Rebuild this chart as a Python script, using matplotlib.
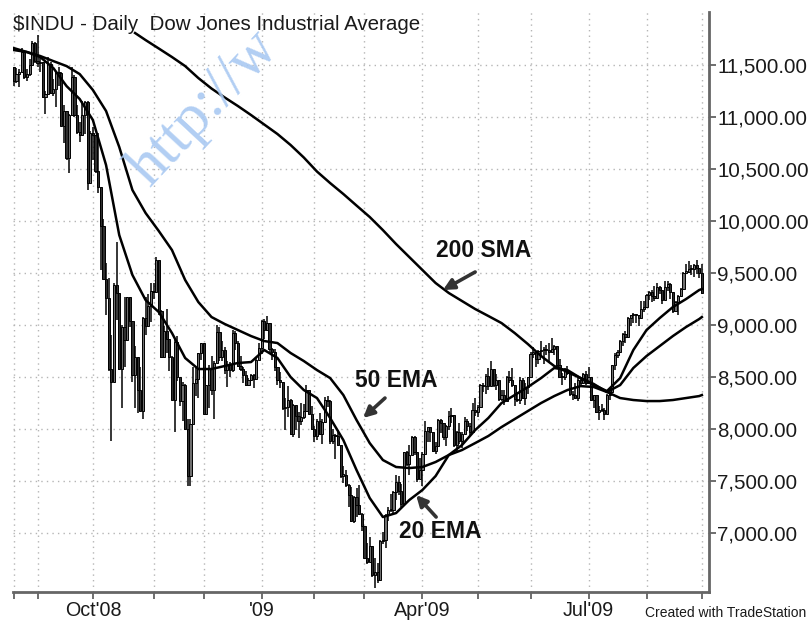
import matplotlib
matplotlib.use("Agg")
import matplotlib.pyplot as plt
import numpy as np
import pandas as pd
from matplotlib.ticker import FuncFormatter, FixedLocator

# ----------------------------
# Data ($INDU daily, Aug 19 2008 - Sep 1 2009)
# ----------------------------
HOLIDAYS = ["2008-09-01", "2008-11-27", "2008-12-25", "2009-01-01", "2009-01-19",
            "2009-02-16", "2009-04-10", "2009-05-25", "2009-07-03"]
FIRST_DAY = "2008-08-19"
LAST_DAY = "2009-09-01"

OPEN = [
    11479, 11348, 11417, 11430, 11628, 11386, 11413, 11502, 11715,
    11543, 11516, 11532, 11188, 11220, 11511, 11231, 11268, 11434, 11421, 10917, 11059, 10609, 11019, 11388, 11016, 10854, 10825, 11022, 11143, 10365,
    10851, 10831, 10482, 10325, 9955, 9447, 9258, 8579, 8451, 9387, 9310, 8578, 8979, 8852, 9265, 9034, 8519, 8691, 8378, 8175, 9065, 8990, 9180,
    9325, 9319, 9625, 9139, 8695, 8943, 8870, 8694, 8283, 8836, 8497, 8273, 8424, 7997, 7552, 8046, 8443, 8479, 8727,
    8829, 8149, 8419, 8591, 8376, 8635, 8934, 8691, 8761, 8565, 8629, 8565, 8924, 8824, 8604, 8579, 8519, 8419, 8468, 8515, 8483, 8668,
    8776, 9034, 8952, 9015, 8769, 8742, 8599, 8474, 8448, 8200, 8212, 8281, 7950, 8229, 8123, 8077, 8116, 8175, 8375, 8149,
    8001, 7936, 8078, 7956, 8063, 8281, 8270, 7889, 7939, 7933, 7850, 7553, 7555, 7466, 7366, 7115, 7351, 7271, 7183,
    7063, 6764, 6726, 6876, 6594, 6627, 6547, 6926, 6930, 7170, 7224, 7217, 7395, 7487, 7401, 7279, 7776, 7660, 7750, 7925, 7776, 7523,
    7609, 7762, 7978, 8018, 7975, 7789, 7837, 8084, 8058, 7920, 8030, 8125, 8131, 7842, 7970, 7887, 7957, 8076, 8026, 7969, 8186,
    8168, 8212, 8426, 8410, 8512, 8409, 8575, 8419, 8469, 8285, 8331, 8268, 8504, 8475, 8423, 8292, 8277, 8473, 8300, 8403,
    8500, 8721, 8740, 8675, 8750, 8764, 8764, 8763, 8739, 8770, 8799, 8613, 8505, 8497, 8555, 8540, 8340, 8323, 8300, 8472, 8438, 8529,
    8447, 8504, 8281, 8325, 8163, 8179, 8183, 8147, 8332, 8359, 8616, 8712, 8743, 8848, 8916, 8882, 9069, 9093, 9108, 9096, 9070, 9154,
    9172, 9286, 9320, 9280, 9257, 9370, 9338, 9241, 9362, 9398, 9321, 9136, 9217, 9280, 9350, 9505, 9509, 9539, 9543, 9580, 9545,
    9496,
]
HIGH = [
    11480, 11470, 11460, 11660, 11630, 11460, 11560, 11730, 11720,
    11790, 11580, 11530, 11250, 11580, 11530, 11370, 11440, 11480, 11430, 11120, 11060, 11030, 11480, 11400, 11120, 10950, 11150, 11150, 11150, 10870,
    10900, 10830, 10850, 10330, 10020, 9600, 9450, 8900, 9400, 9794, 9310, 9000, 9270, 9270, 9270, 9040, 8800, 8690, 8600, 9080, 9270, 9300, 9400,
    9400, 9654, 9625, 9140, 8990, 9150, 8870, 8700, 8880, 8890, 8500, 8450, 8430, 8100, 8100, 8600, 8600, 8730, 8830,
    8830, 8420, 8620, 8700, 8650, 9000, 8980, 8850, 8790, 8650, 8640, 8950, 8940, 8850, 8700, 8600, 8560, 8490, 8530, 8530, 8680, 8830,
    9050, 9060, 9088, 9015, 8780, 8770, 8600, 8550, 8450, 8300, 8410, 8290, 8240, 8230, 8160, 8250, 8240, 8420, 8380, 8220,
    8030, 8100, 8150, 8100, 8310, 8320, 8280, 8000, 7950, 7990, 7850, 7640, 7610, 7470, 7440, 7360, 7430, 7460, 7190,
    7060, 6900, 6960, 6880, 6760, 6710, 6930, 7010, 7180, 7250, 7380, 7400, 7560, 7550, 7470, 7780, 7790, 7850, 7930, 7930, 7776, 7720,
    7780, 8080, 8020, 8020, 7975, 7880, 8100, 8100, 8060, 8040, 8170, 8200, 8131, 7980, 8060, 7970, 8120, 8100, 8060, 8250, 8300,
    8230, 8430, 8440, 8530, 8590, 8650, 8575, 8530, 8470, 8380, 8380, 8510, 8560, 8590, 8423, 8360, 8500, 8490, 8440, 8500,
    8740, 8790, 8740, 8760, 8850, 8790, 8810, 8830, 8880, 8810, 8799, 8670, 8540, 8590, 8610, 8540, 8370, 8440, 8490, 8490, 8540, 8560,
    8600, 8504, 8330, 8330, 8220, 8240, 8200, 8340, 8370, 8620, 8730, 8760, 8860, 8920, 8940, 9080, 9100, 9120, 9110, 9100, 9230, 9230,
    9300, 9330, 9340, 9380, 9400, 9380, 9340, 9420, 9420, 9400, 9321, 9230, 9290, 9360, 9510, 9590, 9620, 9580, 9590, 9630, 9545,
    9590,
]
LOW = [
    11300, 11330, 11290, 11430, 11370, 11350, 11390, 11500, 11520,
    11480, 11430, 11180, 11030, 11220, 11220, 11200, 11100, 11300, 10910, 10750, 10590, 10460, 11010, 11000, 10840, 10760, 10820, 10840, 10300, 10365,
    10590, 10460, 10270, 9525, 9440, 9100, 8560, 7882, 8450, 9050, 8570, 8200, 8600, 8850, 8980, 8450, 8200, 8150, 8170, 8100, 8900, 8990, 9030,
    9250, 9319, 9100, 8680, 8690, 8730, 8560, 8280, 7970, 8460, 8220, 8080, 7990, 7449, 7450, 8040, 8320, 8300, 8660,
    8140, 8140, 8200, 8330, 8100, 8635, 8650, 8650, 8530, 8400, 8500, 8550, 8760, 8600, 8560, 8440, 8410, 8410, 8460, 8390, 8480, 8660,
    8720, 8870, 8940, 8720, 8660, 8560, 8420, 8390, 8180, 7990, 8120, 7940, 7920, 7990, 7910, 8040, 8100, 8175, 8140, 7990,
    7880, 7890, 7940, 7860, 8060, 8210, 7860, 7860, 7710, 7840, 7530, 7480, 7440, 7250, 7110, 7100, 7150, 7170, 7020,
    6760, 6700, 6730, 6580, 6470, 6520, 6547, 6890, 6860, 7120, 7200, 7180, 7320, 7370, 7250, 7279, 7640, 7560, 7750, 7750, 7490, 7520,
    7450, 7762, 7880, 7880, 7780, 7760, 7837, 7960, 7890, 7840, 7990, 8060, 7830, 7780, 7860, 7820, 7957, 7980, 7930, 7969, 8130,
    8120, 8212, 8360, 8340, 8380, 8409, 8400, 8380, 8270, 8270, 8230, 8268, 8440, 8400, 8220, 8260, 8240, 8290, 8230, 8340,
    8500, 8680, 8600, 8630, 8700, 8630, 8710, 8640, 8730, 8710, 8580, 8500, 8420, 8470, 8520, 8320, 8280, 8290, 8270, 8400, 8430, 8420,
    8447, 8270, 8200, 8150, 8090, 8160, 8087, 8140, 8280, 8359, 8570, 8680, 8743, 8800, 8830, 8880, 8990, 9020, 9020, 8990, 9070, 9130,
    9172, 9240, 9220, 9230, 9257, 9300, 9200, 9240, 9330, 9250, 9120, 9130, 9100, 9270, 9350, 9490, 9500, 9480, 9460, 9490, 9450,
    9300,
]
CLOSE = [
    11348, 11417, 11430, 11628, 11386, 11413, 11502, 11715, 11543,
    11516, 11532, 11188, 11220, 11511, 11231, 11268, 11434, 11421, 10917, 11059, 10609, 11019, 11388, 11016, 10854, 10825, 11022, 11143, 10365, 10851,
    10831, 10482, 10325, 9955, 9447, 9258, 8579, 8451, 9387, 9310, 8578, 8979, 8852, 9265, 9034, 8519, 8691, 8378, 8175, 9065, 8990, 9180, 9325,
    9319, 9625, 9139, 8695, 8943, 8870, 8694, 8283, 8836, 8497, 8273, 8424, 7997, 7552, 8046, 8443, 8479, 8727, 8829,
    8149, 8419, 8591, 8376, 8635, 8934, 8691, 8761, 8565, 8629, 8565, 8924, 8824, 8604, 8579, 8519, 8419, 8468, 8515, 8483, 8668, 8776,
    9034, 8952, 9015, 8769, 8742, 8599, 8474, 8448, 8200, 8212, 8281, 7950, 8229, 8123, 8077, 8116, 8175, 8375, 8149, 8001,
    7936, 8078, 7956, 8063, 8281, 8270, 7889, 7939, 7933, 7850, 7553, 7555, 7466, 7366, 7115, 7351, 7271, 7183, 7063,
    6764, 6726, 6876, 6594, 6627, 6547, 6926, 6930, 7170, 7224, 7217, 7395, 7487, 7401, 7279, 7776, 7660, 7750, 7925, 7776, 7523, 7609,
    7762, 7978, 8018, 7975, 7789, 7837, 8084, 8058, 7920, 8030, 8125, 8131, 7842, 7970, 7887, 7957, 8076, 8026, 7969, 8186, 8168,
    8212, 8426, 8410, 8512, 8409, 8575, 8419, 8469, 8285, 8331, 8268, 8504, 8475, 8423, 8292, 8277, 8473, 8300, 8403, 8500,
    8721, 8740, 8675, 8750, 8764, 8764, 8763, 8739, 8770, 8799, 8613, 8505, 8497, 8555, 8540, 8340, 8323, 8300, 8472, 8438, 8529, 8447,
    8504, 8281, 8325, 8163, 8179, 8183, 8147, 8332, 8359, 8616, 8712, 8743, 8848, 8916, 8882, 9069, 9093, 9108, 9096, 9070, 9154, 9172,
    9286, 9320, 9280, 9257, 9370, 9338, 9241, 9362, 9398, 9321, 9136, 9217, 9280, 9350, 9505, 9509, 9539, 9543, 9580, 9545, 9496,
    9310,
]

# moving averages as drawn on the chart, sampled every 5th bar
MA_DAYS = list(range(0, 261, 5)) + [261]
EMA20 = [
    11644, 11625, 11577, 11471, 11298, 11173, 10971, 10538, 9865, 9481,
    9240, 9125, 8923, 8683, 8577, 8577, 8606, 8635, 8644, 8760,
    8683, 8500, 8375, 8298, 8106, 7894, 7606, 7337, 7154, 7192,
    7317, 7414, 7548, 7750, 7846, 7990, 8106, 8250, 8327, 8404,
    8490, 8587, 8567, 8490, 8423, 8365, 8490, 8760, 8952, 9067,
    9173, 9250, 9337, 9346,
]
EMA50 = [
    11663, 11625, 11587, 11538, 11490, 11413, 11260, 11058, 10712, 10298,
    10077, 9904, 9721, 9433, 9221, 9077, 9010, 8952, 8894, 8846,
    8827, 8731, 8654, 8567, 8490, 8327, 8087, 7865, 7702, 7635,
    7625, 7635, 7683, 7750, 7798, 7865, 7933, 8019, 8096, 8173,
    8250, 8317, 8375, 8413, 8404, 8356, 8423, 8587, 8702, 8798,
    8894, 8981, 9058, 9077,
]
SMA_DAYS = [46] + list(range(50, 261, 5)) + [261]
SMA200 = [
    11808, 11740, 11659, 11577, 11490, 11375, 11274, 11188, 11106, 11019,
    10928, 10837, 10731, 10611, 10476, 10365, 10260, 10149, 10039, 9913,
    9779, 9654, 9529, 9404, 9308, 9231, 9154, 9087, 9019, 8923,
    8817, 8702, 8606, 8548, 8490, 8433, 8356, 8298, 8279, 8269,
    8269, 8279, 8298, 8317, 8327,
]

Y_TICKS = [7000, 7500, 8000, 8500, 9000, 9500, 10000, 10500, 11000, 11500]

# ----------------------------
# Figure
# ----------------------------
W, H = 809, 623
fig = plt.figure(figsize=(W / 100, H / 100), dpi=100)
ax = fig.add_axes([13 / W, 31 / H, 696 / W, 580 / H])

dates = pd.bdate_range(FIRST_DAY, LAST_DAY, freq="C", holidays=HOLIDAYS)
idx = np.arange(len(dates))
o, h, l, c = map(np.asarray, (OPEN, HIGH, LOW, CLOSE))

# candles
ax.vlines(idx, l, h, color="black", lw=1.1, zorder=2)
body_lo = np.minimum(o, c)
body_hi = np.maximum(o, c)
body_h = np.maximum(body_hi - body_lo, 10)
body_col = np.where(c >= o, "#6f6f6f", "#2e2e2e")
ax.bar(idx, body_h, bottom=body_lo, width=0.82, color=body_col,
       edgecolor="black", linewidth=0.7, zorder=3)

# moving averages
ax.plot(MA_DAYS, EMA20, color="black", lw=1.8, zorder=4)
ax.plot(MA_DAYS, EMA50, color="black", lw=1.8, zorder=4)
ax.plot(SMA_DAYS, SMA200, color="black", lw=1.8, zorder=4)

ax.set_xlim(-0.3, 263.7)
ax.set_ylim(6433, 12010)

# x axis: month starts, quarter labels
month_first = pd.Series(idx, index=dates).groupby([dates.year, dates.month]).first()
month_pos = list(month_first.values)
month_lbl = []
for (yr, mo) in month_first.index:
    if mo == 1:
        month_lbl.append("'" + str(yr)[2:])
    elif mo in (4, 7, 10):
        month_lbl.append(pd.Timestamp(yr, mo, 1).strftime("%b'%y"))
    else:
        month_lbl.append("")
ax.xaxis.set_major_locator(FixedLocator(month_pos))
ax.set_xticklabels(month_lbl)

ax.yaxis.tick_right()
ax.set_yticks(Y_TICKS)
ax.yaxis.set_major_formatter(FuncFormatter(lambda v, p: f"{v:,.2f}"))

ax.tick_params(axis="x", direction="out", length=5, width=1.2, color="#555555",
               labelsize=14.2, pad=1.5, labelcolor="#1a1a1a")
ax.tick_params(axis="y", direction="out", length=5, width=1.2, color="#555555",
               labelsize=14.8, pad=1, labelcolor="#1a1a1a")
for t in ax.get_xticklabels() + ax.get_yticklabels():
    t.set_fontfamily("Liberation Sans")

ax.grid(True, color="#b5b5b5", linestyle=(0, (1, 3)), lw=1.0, zorder=0)
for side in ("left", "top"):
    ax.spines[side].set_visible(False)
for side in ("right", "bottom"):
    ax.spines[side].set_color("#666666")
    ax.spines[side].set_linewidth(2)

# title + footer
fig.text(13 / W, 1 - 30 / H, "$INDU - Daily  Dow Jones Industrial Average",
         fontsize=14.8, family="Liberation Sans", color="#1a1a1a", va="baseline")
fig.text(645 / W, 1 - 617 / H, "Created with TradeStation",
         fontsize=10, family="Liberation Sans", color="#1a1a1a", va="baseline")

# callouts
arrow_kw = dict(arrowstyle="-|>", color="#333333", lw=2.6, mutation_scale=16,
                shrinkA=0, shrinkB=0)
label_kw = dict(fontsize=16.5, fontweight="bold", family="Liberation Sans",
                ha="center", va="center", color="#111111", zorder=6)

ax.text(178.3, 9721, "200 SMA", **label_kw)
ax.annotate("", xy=(162.8, 9337), xytext=(175.0, 9510), arrowprops=arrow_kw, zorder=6)
ax.text(145.0, 8462, "50 EMA", **label_kw)
ax.annotate("", xy=(132.5, 8106), xytext=(140.8, 8298), arrowprops=arrow_kw, zorder=6)
ax.text(161.7, 7019, "20 EMA", **label_kw)
ax.annotate("", xy=(152.6, 7365), xytext=(160.2, 7154), arrowprops=arrow_kw, zorder=6)

# site watermark
fig.text(150 / W, 1 - 188 / H, "http://w", fontsize=44, family="Liberation Serif",
         color="#a9c9f2", rotation=47, rotation_mode="anchor", ha="left", va="baseline",
         alpha=0.9, zorder=10)

fig.savefig("out.png", dpi=100)
